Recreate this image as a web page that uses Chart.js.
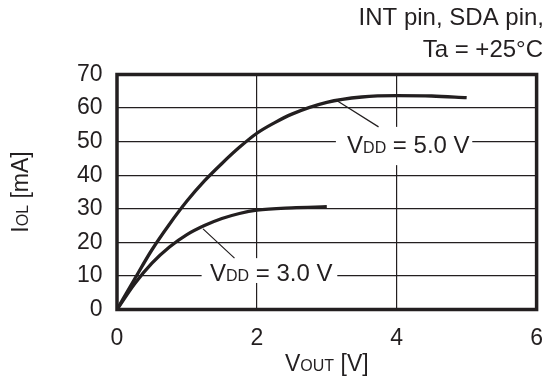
<!DOCTYPE html>
<html>
<head>
<meta charset="utf-8">
<script src="https://cdn.jsdelivr.net/npm/chart.js@4/dist/chart.umd.min.js"></script>
<style>
  html, body { margin: 0; padding: 0; background: #fff; }
  #caixa { width: 558px; height: 383px; }
</style>
</head>
<body>
<div id="caixa"><canvas id="grafico" width="558" height="383"></canvas></div>
<script>
// dados
const vout5 = [0, 0.25, 0.5, 0.75, 1, 1.25, 1.5, 1.75, 2, 2.25, 2.5, 3, 3.5, 4, 4.5, 5];
const iol5 = [0, 9, 17.8, 25.4, 32.3, 38.3, 43.5, 48.3, 52.5, 55.6, 58.2, 61.7, 63.3, 63.7, 63.6, 63.1];
const vout3 = [0, 0.25, 0.5, 0.75, 1, 1.25, 1.5, 1.75, 2, 2.5, 3];
const iol3 = [0, 7.6, 13.8, 18.6, 22.3, 25, 27.1, 28.6, 29.6, 30.3, 30.6];

const xTicks = [0, 2, 4, 6];
const yTicks = [0, 10, 20, 30, 40, 50, 60, 70];
const titulo = ['INT pin, SDA pin,', 'Ta = +25°C'];
const rotulo5 = ['V', 'DD', ' = 5.0 V'];
const rotulo3 = ['V', 'DD', ' = 3.0 V'];

const COR = '#231f20';
const FONTE = '"Liberation Sans", Arial, sans-serif';
const TAM = 23;
const TAM_SUB = 16;

function pontos(xs, ys) {
    return xs.map((x, i) => ({ x: x, y: ys[i] }));
}

// texto com parte menor no meio (V + DD, I + OL, V + OUT)
function textoMisto(ctx, partes, x, y, alinhamento, tam) {
    const tamanhos = [tam, TAM_SUB, tam];
    const larguras = partes.map((p, i) => {
        ctx.font = tamanhos[i] + 'px ' + FONTE;
        return ctx.measureText(p).width;
    });
    const total = larguras.reduce((a, b) => a + b, 0);
    let inicio = alinhamento === 'center' ? x - total / 2 : x;
    ctx.textAlign = 'left';
    ctx.textBaseline = 'alphabetic';
    ctx.fillStyle = COR;
    partes.forEach((p, i) => {
        ctx.font = tamanhos[i] + 'px ' + FONTE;
        ctx.fillText(p, inicio, y);
        inicio += larguras[i];
    });
}

function caixaBranca(chart, xa, xb, ya, yb) {
    const sx = chart.scales.x, sy = chart.scales.y;
    const x1 = sx.getPixelForValue(xa), x2 = sx.getPixelForValue(xb);
    const y1 = sy.getPixelForValue(yb), y2 = sy.getPixelForValue(ya);
    chart.ctx.fillStyle = '#fff';
    chart.ctx.fillRect(x1, y1, x2 - x1, y2 - y1);
}

const anotacoes = {
    id: 'anotacoes',
    beforeDatasetsDraw(chart) {
        chart.ctx.save();
        caixaBranca(chart, 3.13, 5.08, 43, 54.4);
        caixaBranca(chart, 1.21, 3.15, 7.9, 15.3);
        chart.ctx.restore();
    },
    afterDatasetsDraw(chart) {
        const ctx = chart.ctx;
        const sx = chart.scales.x;
        const sy = chart.scales.y;
        const area = chart.chartArea;
        const meio = 0.358 * 24;
        ctx.save();

        // linhas indicadoras
        ctx.strokeStyle = COR;
        ctx.lineWidth = 1.2;
        ctx.beginPath();
        ctx.moveTo(sx.getPixelForValue(3.13), sy.getPixelForValue(62.4));
        ctx.lineTo(sx.getPixelForValue(3.74), sy.getPixelForValue(54.4));
        ctx.moveTo(sx.getPixelForValue(1.23), sy.getPixelForValue(24));
        ctx.lineTo(sx.getPixelForValue(1.68), sy.getPixelForValue(15.3));
        ctx.stroke();

        textoMisto(ctx, rotulo5, sx.getPixelForValue(3.29), sy.getPixelForValue(49.2) + meio, 'left', 24);
        textoMisto(ctx, rotulo3, sx.getPixelForValue(1.33), sy.getPixelForValue(11.1) + meio, 'left', 24);

        // moldura
        ctx.lineWidth = 3.5;
        ctx.strokeRect(area.left, area.top, area.right - area.left, area.bottom - area.top);

        // título
        ctx.fillStyle = COR;
        ctx.font = '24px ' + FONTE;
        ctx.textAlign = 'right';
        ctx.textBaseline = 'alphabetic';
        ctx.fillText(titulo[0], 544, 25.3);
        ctx.fillText(titulo[1], 543, 56.9);

        // títulos dos eixos
        textoMisto(ctx, ['V', 'OUT', ' [V]'], (area.left + area.right) / 2, 371, 'center', TAM);
        ctx.translate(20 + 0.358 * TAM, 192);
        ctx.rotate(-Math.PI / 2);
        textoMisto(ctx, ['I', 'OL', ' [mA]'], 0, 0, 'center', TAM);
        ctx.restore();
    }
};

const grafico = new Chart(document.getElementById('grafico'), {
    type: 'scatter',
    data: {
        datasets: [
            {
                label: 'VDD = 5.0 V',
                data: pontos(vout5, iol5),
                showLine: true,
                borderColor: COR,
                borderWidth: 3.3,
                pointRadius: 0,
                cubicInterpolationMode: 'monotone'
            },
            {
                label: 'VDD = 3.0 V',
                data: pontos(vout3, iol3),
                showLine: true,
                borderColor: COR,
                borderWidth: 3.3,
                pointRadius: 0,
                cubicInterpolationMode: 'monotone'
            }
        ]
    },
    options: {
        responsive: false,
        animation: false,
        devicePixelRatio: 1,
        layout: { padding: { left: 0, right: 14, top: 74.5, bottom: 0 } },
        plugins: {
            legend: { display: false },
            tooltip: { enabled: false }
        },
        scales: {
            x: {
                type: 'linear',
                min: 0,
                max: 6,
                afterFit: s => { s.height = 73.5; },
                afterBuildTicks: s => { s.ticks = xTicks.map(v => ({ value: v })); },
                ticks: { color: COR, font: { family: FONTE, size: TAM }, padding: 15, maxRotation: 0 },
                grid: { color: COR, lineWidth: 1.2, drawTicks: false },
                border: { display: false }
            },
            y: {
                type: 'linear',
                min: 0,
                max: 70,
                afterFit: s => { s.width = 117; },
                afterBuildTicks: s => { s.ticks = yTicks.map(v => ({ value: v })); },
                ticks: { color: COR, font: { family: FONTE, size: TAM }, padding: 14.5 },
                grid: { color: COR, lineWidth: 1.2, drawTicks: false },
                border: { display: false }
            }
        }
    },
    plugins: [anotacoes]
});
</script>
</body>
</html>
